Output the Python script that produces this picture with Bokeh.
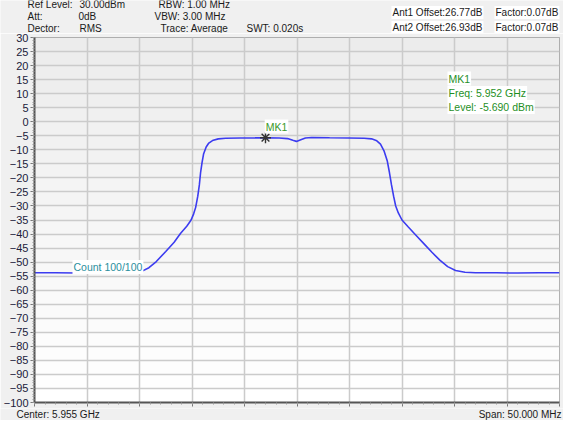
import numpy as np
from bokeh.plotting import figure
from bokeh.layouts import column
from bokeh.models import Label, FixedTicker, Range1d, CustomJSTickFormatter
from bokeh.embed import file_html
from bokeh.resources import INLINE

# ---- data ----
freq_mhz = [5930.0, 5932.0, 5934.0, 5936.0, 5938.0, 5939.5, 5940.2, 5940.9, 5941.6, 5942.5,
            5943.3, 5943.9, 5944.5, 5944.9, 5945.15, 5945.35, 5945.55, 5945.7, 5945.82, 5945.96,
            5946.1, 5946.35, 5946.6, 5946.95, 5947.5, 5948.2, 5949.6, 5951.0, 5952.0, 5953.3,
            5954.1, 5954.6, 5954.95, 5955.3, 5955.8, 5956.4, 5958.1, 5959.9, 5961.4, 5962.1,
            5962.6, 5962.95, 5963.3, 5963.6, 5963.8, 5964.0, 5964.2, 5964.4, 5964.65, 5965.0,
            5965.6, 5966.35, 5967.1, 5967.85, 5968.6, 5969.35, 5970.1, 5971.0, 5972.0, 5974.0,
            5976.0, 5978.0, 5980.0]
level_db = [-53.8, -53.8, -53.9, -53.8, -53.8, -53.7, -53.3, -52.0, -49.8, -46.2,
            -42.9, -39.8, -37.2, -35.1, -32.9, -30.5, -26.5, -22.5, -18.0, -14.5,
            -11.5, -9.0, -7.6, -6.7, -6.1, -5.9, -5.8, -5.75, -5.69, -5.8,
            -6.0, -6.6, -7.0, -6.5, -5.8, -5.6, -5.7, -5.8, -5.9, -6.1,
            -6.8, -8.0, -10.5, -14.0, -18.0, -22.5, -26.5, -30.0, -32.5, -35.0,
            -37.5, -40.5, -43.5, -46.5, -49.3, -51.6, -53.0, -53.6, -53.8, -53.8,
            -53.9, -53.8, -53.8]
mk_name = "MK1"
mk_freq = 5952.0
mk_level = -5.690
y_ticks = list(range(-100, 31, 5))
x_ticks = list(range(5930, 5981, 5))
header_left_texts = ["Ref Level:", "30.00dBm", "RBW: 1.00 MHz",
                     "Att:", "0dB", "VBW: 3.00 MHz",
                     "Dector:", "RMS", "Trace: Average", "SWT: 0.020s"]
header_right_texts = ["Ant1 Offset:26.77dB", "Factor:0.07dB",
                      "Ant2 Offset:26.93dB", "Factor:0.07dB"]
count_text = "Count 100/100"

# ---- layout (page pixel positions of the text blocks) ----
header_left_pos = [(35, 12), (87, 12), (166, 12), (35, 24), (86, 24), (162, 24),
                   (35, 36), (87, 36), (168, 36), (254, 36)]
header_right_pos = [(399, 20), (502, 20), (399, 35), (502, 35)]

W = 563
HEAD_H, MAIN_H, FOOT_H = 33, 375, 12
FONT = "Liberation Sans"
BG = "#f0f0f0"


def text_fig(h):
    f = figure(width=W, height=h, output_backend="svg", toolbar_location=None,
               x_range=Range1d(0, W), y_range=Range1d(h, 0),
               min_border=0, min_border_left=0, min_border_right=0,
               min_border_top=0, min_border_bottom=0,
               x_axis_type=None, y_axis_type=None, frame_align=False)
    f.grid.visible = False
    f.outline_line_color = None
    f.border_fill_color = BG
    f.background_fill_color = BG
    return f


def add_text(f, text, x, y, color="#1a1a1a", align="left", bgc=None, size="10px", units="data"):
    kw = dict(background_fill_color=bgc, padding=1) if bgc else {}
    f.add_layout(Label(x=x, y=y, x_units=units, y_units=units, text=text, text_font=FONT,
                       text_font_size=size, text_color=color, text_align=align,
                       text_baseline="middle", **kw))


# header
head = text_fig(HEAD_H)
for t, (sx, sy) in zip(header_left_texts, header_left_pos):
    add_text(head, t, sx - 8, sy - 8)
for t, (sx, sy) in zip(header_right_texts, header_right_pos):
    add_text(head, t, sx - 8, sy - 8, bgc="white")

# main chart
p = figure(width=W, height=MAIN_H, output_backend="svg", toolbar_location=None,
           x_range=Range1d(x_ticks[0], x_ticks[-1]), y_range=Range1d(y_ticks[0], y_ticks[-1]),
           min_border_left=34, min_border_top=4, min_border_right=4, min_border_bottom=6,
           frame_align=False)
p.border_fill_color = BG
p.background_fill_color = "#f5f5f5"
p.outline_line_color = "#9a9a9a"

# background gradient (top grey -> bottom white)
nb = 26
edges = np.linspace(y_ticks[0], y_ticks[-1], nb + 1)
cols = []
for i in range(nb):
    c = int(round(255 - i / (nb - 1) * (255 - 236)))
    cols.append("#%02x%02x%02x" % (c, c, c))
bg = p.quad(left=x_ticks[0], right=x_ticks[-1], bottom=edges[:-1], top=edges[1:],
            fill_color=cols, line_color=None)
bg.level = "image"

p.xgrid.ticker = FixedTicker(ticks=x_ticks)
p.ygrid.ticker = FixedTicker(ticks=y_ticks)
p.grid.grid_line_color = "#cbcbcb"
p.grid.grid_line_width = 1.5

p.xaxis.ticker = FixedTicker(ticks=x_ticks, minor_ticks=list(range(x_ticks[0], x_ticks[-1] + 1)))
p.yaxis.ticker = FixedTicker(ticks=y_ticks, minor_ticks=list(range(y_ticks[0], y_ticks[-1] + 1)))
for ax in (p.xaxis, p.yaxis):
    ax.axis_line_color = "#555555"
    ax.axis_line_width = 2
    ax.major_tick_line_color = "#777777"
    ax.minor_tick_line_color = "#999999"
    ax.major_tick_out = 4
    ax.major_tick_in = 0
    ax.minor_tick_out = 2
    ax.minor_tick_in = 0
p.xaxis.formatter = CustomJSTickFormatter(code="return ''")
p.xaxis.major_label_standoff = 0
p.yaxis.major_label_text_font = FONT
p.yaxis.major_label_text_font_size = "11px"
p.yaxis.major_label_text_color = "#20203a"
p.yaxis.major_label_standoff = 2

p.line(freq_mhz, level_db, line_color="#3c3cf0", line_width=1.6)
p.scatter([mk_freq], [mk_level], marker="asterisk", size=11, line_color="#333333", line_width=1.4)


# in-plot annotations (screen offsets relative to the plot frame: left = 42, bottom = 410 page px)
def inplot(text, sx, sy, color, align="left"):
    add_text(p, text, sx - 42, 410 - sy, color=color, align=align, bgc="white", size="10.5px",
             units="screen")


inplot(count_text, 80, 274.5, "#2a8f9e")
inplot(mk_name, 284, 134, "#3a9a2a", align="center")
green = "#1f8f1f"
inplot(mk_name, 455, 86, green)
inplot("Freq: %.3f GHz" % (mk_freq / 1000), 455, 100.5, green)
inplot("Level: %.3f dBm" % mk_level, 455, 114.5, green)

# footer
foot = text_fig(FOOT_H)
add_text(foot, "Center: %.3f GHz" % ((x_ticks[0] + x_ticks[-1]) / 2000), 24 - 8, 6)
add_text(foot, "Span: %.3f MHz" % float(x_ticks[-1] - x_ticks[0]), W - 2, 6, align="right")

layout = column(head, p, foot, spacing=0)
open("out.html", "w").write(file_html(layout, INLINE))
